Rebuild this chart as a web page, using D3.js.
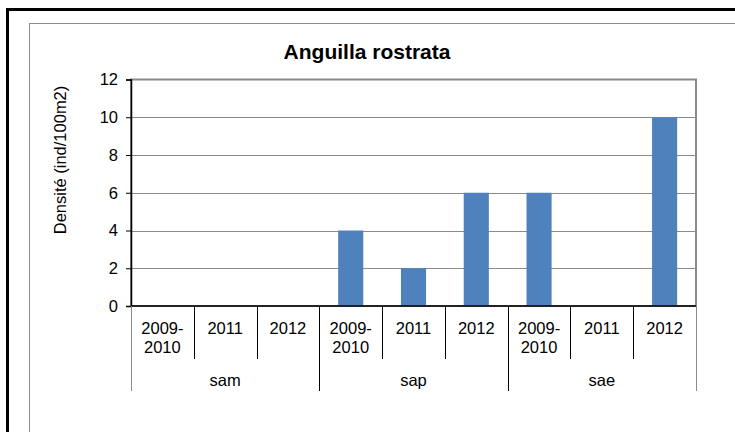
<!DOCTYPE html>
<html>
<head>
<meta charset="utf-8">
<script src="https://cdn.jsdelivr.net/npm/d3@7"></script>
<style>
  html, body { margin: 0; padding: 0; background: #fff; }
  svg { display: block; font-family: "Liberation Sans", Arial, sans-serif; }
</style>
</head>
<body>
<svg id="chart" width="735" height="432"></svg>
<script>
// Site groups and sampling periods
const groups = ["sam", "sap", "sae"];
const periods = [["2009-", "2010"], ["2011"], ["2012"]];
// Density per site/period (ind/100m2)
const samValues = [0, 0, 0];
const sapValues = [4, 2, 6];
const saeValues = [6, 0, 10];
const yTicks = [0, 2, 4, 6, 8, 10, 12];

const rows = [];
[samValues, sapValues, saeValues].forEach((vals, gi) => {
  vals.forEach((v, pi) => rows.push({ group: groups[gi], period: periods[pi], key: gi + "-" + pi, value: v }));
});

const svg = d3.select("#chart");
const plot = { left: 131, right: 696, top: 79.5, bottom: 306 };

// Outer frame and chart area
svg.append("rect").attr("x", 7.5).attr("y", 9.5).attr("width", 760).attr("height", 460)
  .attr("fill", "none").attr("stroke", "#000").attr("stroke-width", 3);
svg.append("rect").attr("x", 29.5).attr("y", 23.5).attr("width", 740).attr("height", 440)
  .attr("fill", "none").attr("stroke", "#8c8c8c").attr("stroke-width", 1);

const x = d3.scaleBand().domain(rows.map(d => d.key)).range([plot.left, plot.right]).padding(0);
const y = d3.scaleLinear().domain([0, 12]).range([plot.bottom, plot.top]);

// Gridlines
svg.append("g").selectAll("line").data(yTicks.filter(t => t > 0 && t < 12)).join("line")
  .attr("x1", plot.left).attr("x2", plot.right)
  .attr("y1", d => Math.round(y(d)) + 0.5).attr("y2", d => Math.round(y(d)) + 0.5)
  .attr("stroke", "#8a8a8a").attr("stroke-width", 1);

// Plot area border
svg.append("rect").attr("x", plot.left).attr("y", plot.top)
  .attr("width", plot.right - plot.left).attr("height", plot.bottom - plot.top)
  .attr("fill", "none").attr("stroke", "#8a8a8a").attr("stroke-width", 2);

// Bars
const bw = x.bandwidth() * 0.4;
svg.append("g").selectAll("rect").data(rows.filter(d => d.value > 0)).join("rect")
  .attr("x", d => x(d.key) + (x.bandwidth() - bw) / 2)
  .attr("y", d => y(d.value))
  .attr("width", bw)
  .attr("height", d => y(0) - y(d.value))
  .attr("fill", "#4f81bd");

// Y axis
const yAxis = svg.append("g").attr("transform", `translate(${plot.left},0)`)
  .call(d3.axisLeft(y).tickValues(yTicks).tickSize(5).tickPadding(8).tickFormat(d3.format("d")));
yAxis.select(".domain").attr("stroke", "#000").attr("stroke-width", 1.5);
yAxis.selectAll(".tick line").attr("stroke", "#000");
yAxis.selectAll(".tick text").attr("font-size", "16.5px").attr("fill", "#000")
  .attr("font-family", "'Liberation Sans', Arial, sans-serif");

// X axis baseline
svg.append("line").attr("x1", plot.left).attr("x2", plot.right)
  .attr("y1", plot.bottom).attr("y2", plot.bottom)
  .attr("stroke", "#000").attr("stroke-width", 1.5);

// Category separators
const step = x.step();
const keys = x.domain();
const sepXs = d3.range(keys.length + 1).map(i => plot.left + i * step);
svg.append("g").selectAll("line").data(sepXs).join("line")
  .attr("x1", d => Math.round(d) + 0.5).attr("x2", d => Math.round(d) + 0.5)
  .attr("y1", plot.bottom)
  .attr("y2", (d, i) => (i % 3 === 0) ? 391 : 359)
  .attr("stroke", (d, i) => (i === 0 || i === keys.length) ? "#8a8a8a" : "#000")
  .attr("stroke-width", 1);

// Period labels
const lab = svg.append("g").attr("font-size", "16.5px").attr("fill", "#000").attr("text-anchor", "middle");
rows.forEach(d => {
  const t = lab.append("text").attr("x", x(d.key) + x.bandwidth() / 2).attr("y", 334);
  d.period.forEach((line, li) => t.append("tspan").attr("x", x(d.key) + x.bandwidth() / 2).attr("dy", li === 0 ? 0 : 19).text(line));
});

// Group labels
groups.forEach((g, gi) => {
  lab.append("text").attr("x", plot.left + (gi * 3 + 1.5) * step).attr("y", 386).text(g);
});

// Title
svg.append("text").attr("x", 367).attr("y", 59).attr("text-anchor", "middle")
  .attr("font-size", "21px").attr("font-weight", "bold").text("Anguilla rostrata");

// Y axis title
svg.append("text").attr("transform", "translate(66,160) rotate(-90)").attr("text-anchor", "middle")
  .attr("font-size", "16.5px").text("Densité (ind/100m2)");
</script>
</body>
</html>
